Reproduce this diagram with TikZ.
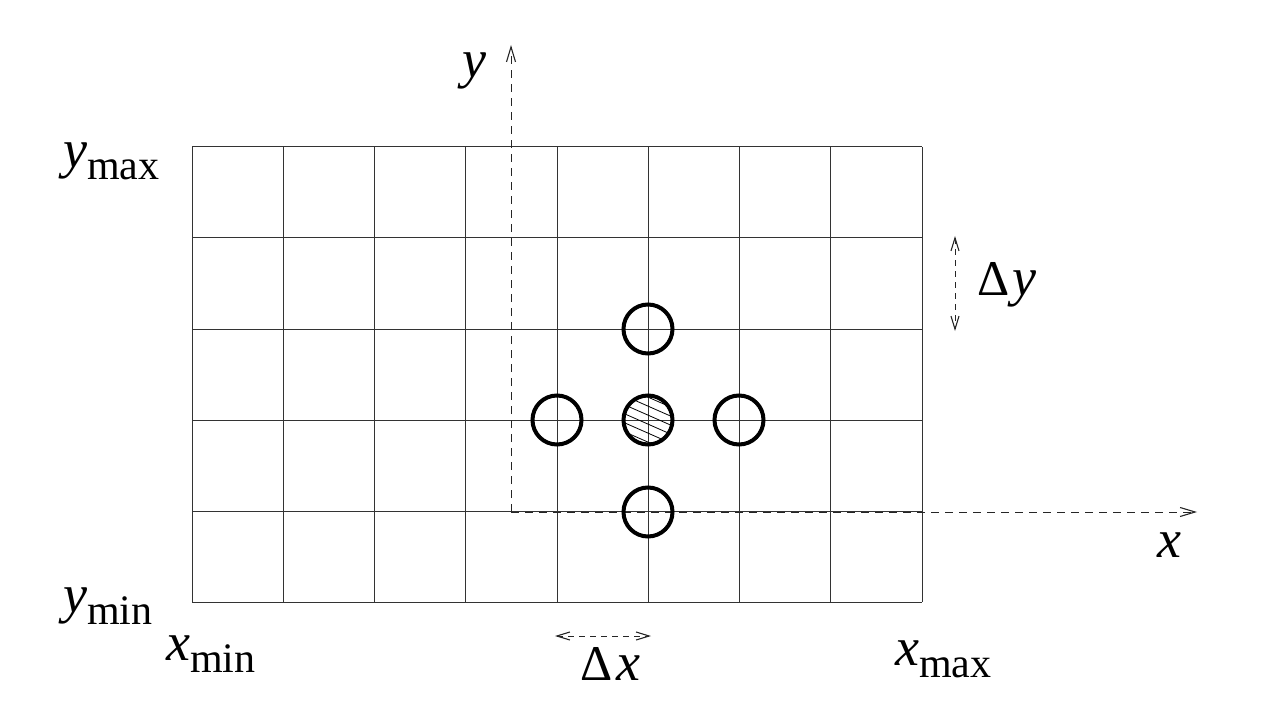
\documentclass[tikz,border=0pt]{standalone}
\usepackage{fontspec}
\setmainfont{Liberation Serif}
\usetikzlibrary{arrows.meta}
\newcommand{\vlab}[2]{{\itshape #1}\raisebox{-12pt}{\fontsize{42}{42}\selectfont #2}}
\begin{document}
\begin{tikzpicture}[x=1pt,y=-1pt,
  gridline/.style={line width=1pt, black!80},
  axisline/.style={dashed, dash pattern=on 8pt off 6pt, line width=1pt, black!85, -{Straight Barb[length=15pt,width=9pt,line width=1.1pt]}},
  dimline/.style={dashed, dash pattern=on 6pt off 5pt, line width=1pt, black!85, {Straight Barb[length=13pt,width=8pt,line width=1.1pt]}-{Straight Barb[length=13pt,width=8pt,line width=1.1pt]}},
  ring/.style={circle, draw, minimum size=49pt, inner sep=0pt, line width=4pt},
  lab/.style={font=\fontsize{54}{54}\selectfont, inner sep=0pt, anchor=base west},
  dlab/.style={font=\fontsize{50}{50}\selectfont, inner sep=0pt, anchor=base west}]
\useasboundingbox (0,0) rectangle (1266,727);
% grid
\foreach \i in {0,...,8} \draw[gridline] ({192+\i*91.25},147) -- ({192+\i*91.25},602);
\foreach \j in {0,...,5} \draw[gridline] (192,{147+\j*91}) -- (922,{147+\j*91});
% axes
\coordinate (o) at (511,512);
\coordinate (ytip) at (511,45);
\coordinate (xtip) at (1197,512);
\draw[axisline] (o) -- (ytip);
\draw[axisline] (o) -- (xtip);
% hatching of centre
\begin{scope}
\clip (648,420) circle (24pt);
\foreach \k in {-40,-31,...,40} \draw[line width=0.8pt] (600,{420+\k-22}) -- (700,{420+\k+22});
\end{scope}
% circles
\node[ring] (c) at (648,420) {};
\node[ring] (w) at (557,420) {};
\node[ring] (e) at (739,420) {};
\node[ring] (n) at (648,329) {};
\node[ring] (s) at (648,512) {};
% dimension arrows
\coordinate (dya) at (955,236);
\coordinate (dyb) at (955,331);
\draw[dimline] (dya) -- (dyb);
\coordinate (dxa) at (555,636);
\coordinate (dxb) at (651,636);
\draw[dimline] (dxa) -- (dxb);
% labels
\node[lab] (ylab) at (462,78) {\itshape y};
\node[lab] (xlab) at (1157,557) {\itshape x};
\node[dlab] (dyd) at (977,295) {Δ};
\node[lab] (dyy) at (1012,295) {\itshape y};
\node[dlab] (dxd) at (580,680) {Δ};
\node[lab] (dxx) at (616,680) {\itshape x};
\node[lab] (ymax) at (63,168) {\vlab{y}{max}};
\node[lab] (ymin) at (63,612) {\vlab{y}{min}};
\node[lab] (xmin) at (166,660) {\vlab{x}{min}};
\node[lab] (xmax) at (895,665) {\vlab{x}{max}};
\end{tikzpicture}
\end{document}
